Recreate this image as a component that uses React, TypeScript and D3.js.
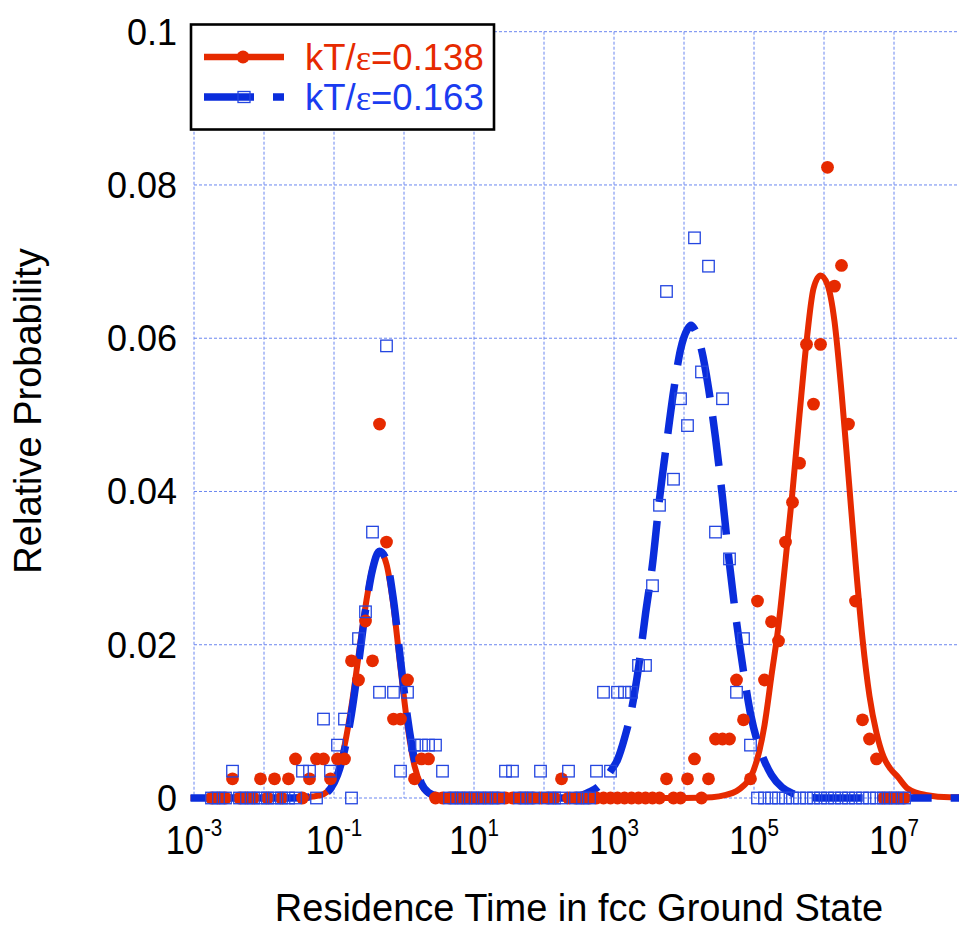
import React from 'react';
import * as d3 from 'd3';

// Histogram bins: centres at 10^(-2.75 + 0.1*i)
const binStartExp = -2.75;
const binStepExp = 0.1;

// kT/ε = 0.138 (filled circles)
const redData = [
  0, 0, 0, 0.0025, 0, 0, 0, 0.0025, 0, 0.0025,
  0, 0.0025, 0.0051, 0, 0.0025, 0.0051, 0.0051, 0.0025, 0.0051, 0.0051,
  0.0179, 0.0154, 0.0231, 0.0179, 0.0488, 0.0334, 0.0103, 0.0103, 0.0154, 0.0025,
  0.0051, 0.0051, 0, 0, 0, 0, 0, 0, 0, 0,
  0, 0, 0, 0, 0, 0, 0, 0, 0, 0,
  0.0025, 0, 0, 0, 0, 0, 0, 0, 0, 0,
  0, 0, 0, 0, 0, 0.0025, 0, 0, 0.0025, 0.0051,
  0, 0.0025, 0.0077, 0.0077, 0.0077, 0.0154, 0.0102, 0.0025, 0.0257, 0.0154,
  0.0230, 0.0205, 0.0334, 0.0386, 0.0437, 0.0592, 0.0514, 0.0592, 0.0823, 0.0668,
  0.0695, 0.0488, 0.0257, 0.0102, 0.0077, 0.0051, 0, 0, 0, 0,
];

// kT/ε = 0.163 (open squares)
const blueData = [
  0, 0, 0, 0.0035, 0, 0, 0, 0, 0, 0,
  0, 0, 0, 0.0035, 0.0035, 0, 0.0103, 0.0035, 0.0069, 0.0103,
  0, 0.0208, 0.0243, 0.0347, 0.0138, 0.0590, 0.0138, 0.0035, 0.0138, 0.0069,
  0.0069, 0.0069, 0.0069, 0.0035, 0, 0, 0, 0, 0, 0,
  0, 0, 0.0035, 0.0035, 0, 0, 0, 0.0035, 0, 0,
  0, 0.0035, 0, 0, 0, 0.0035, 0.0138, 0.0035, 0.0138, 0.0138,
  0.0138, 0.0173, 0.0173, 0.0277, 0.0382, 0.0661, 0.0416, 0.0521, 0.0486, 0.0731,
  0.0556, 0.0694, 0.0347, 0.0521, 0.0312, 0.0138, 0.0208, 0.0069, 0, 0,
  0, 0, 0, 0, 0, 0, 0, 0, 0, 0,
  0, 0, 0, 0, 0, 0, 0, 0, 0, 0,
];

// Fitted curves (exponent of time, probability)
const redFitExp = [
  -3.05, -1.6, -1.3, -1.15, -1.05, -0.95, -0.85, -0.75, -0.65, -0.55,
  -0.45, -0.35, -0.25, -0.15, -0.05, 0.05, 0.15, 0.25, 0.35, 0.5,
  0.7, 1.0, 4.0, 4.4, 4.6, 4.75, 4.85, 4.95, 5.05, 5.15,
  5.25, 5.35, 5.45, 5.55, 5.65, 5.75, 5.85, 5.95, 6.05, 6.15,
  6.25, 6.35, 6.45, 6.55, 6.65, 6.75, 6.85, 6.95, 7.05, 7.2,
  7.45, 7.8, 8.0,
];
const redFitP = [
  0, 0, 0.0002, 0.0005, 0.0013, 0.0032, 0.0068, 0.0120, 0.0185, 0.0250,
  0.0300, 0.0322, 0.0305, 0.0250, 0.0170, 0.0095, 0.0042, 0.0016, 0.0006, 0.0001,
  0, 0, 0, 0.0001, 0.0004, 0.0009, 0.0016, 0.0027, 0.0052, 0.0095,
  0.0160, 0.0225, 0.0310, 0.0400, 0.0500, 0.0595, 0.0665, 0.0682, 0.0670, 0.0622,
  0.0530, 0.0420, 0.0308, 0.0208, 0.0133, 0.0085, 0.0054, 0.0038, 0.0028, 0.0012,
  0.0004, 0.0001, 0.0001,
];
const blueFitExp = [
  -3.05, -1.6, -1.3, -1.15, -1.05, -0.95, -0.85, -0.75, -0.65, -0.55,
  -0.45, -0.35, -0.25, -0.15, -0.05, 0.05, 0.15, 0.25, 0.35, 0.5,
  0.7, 2.3, 2.55, 2.65, 2.75, 2.85, 2.95, 3.05, 3.15, 3.25,
  3.35, 3.45, 3.55, 3.65, 3.75, 3.85, 3.95, 4.05, 4.1, 4.15,
  4.25, 4.35, 4.45, 4.55, 4.65, 4.75, 4.85, 4.95, 5.05, 5.15,
  5.25, 5.4, 5.55, 5.75, 6.0, 8.0,
];
const blueFitP = [
  0, 0, 0.0002, 0.0005, 0.0012, 0.0030, 0.0062, 0.0110, 0.0175, 0.0245,
  0.0298, 0.0322, 0.0310, 0.0258, 0.0180, 0.0105, 0.0050, 0.0019, 0.0007, 0.0002,
  0, 0, 0.0004, 0.0008, 0.0013, 0.0022, 0.0035, 0.0050, 0.0078, 0.0115,
  0.0170, 0.0240, 0.0305, 0.0390, 0.0462, 0.0530, 0.0585, 0.0612, 0.0617, 0.0612,
  0.0585, 0.0535, 0.0470, 0.0392, 0.0305, 0.0230, 0.0165, 0.0110, 0.0073, 0.0048,
  0.0030, 0.0014, 0.0006, 0.0001, 0, 0,
];

const xGridExps = [-3, -2, -1, 0, 1, 2, 3, 4, 5, 6, 7];
const xTickExps = ['-3', '-1', '1', '3', '5', '7'];
const yTicks = [0, 0.02, 0.04, 0.06, 0.08, 0.1];
const yTickLabels = ['0', '0.02', '0.04', '0.06', '0.08', '0.1'];
const legendValues = ['0.138', '0.163'];
const xTitle = 'Residence Time in fcc Ground State';
const yTitle = 'Relative Probability';

const RED = '#e62a00';
const BLUE = '#0a2ddc';
const BLUE_MARK = '#2446e0';
const BLUE_TEXT = '#1a3cf0';
const GRID = '#6a86f0';
const FONT = '"Liberation Sans", Arial, Helvetica, sans-serif';

export default function App() {
  const x = d3.scaleLog().domain([1e-3, 1e8]).range([194, 964]);
  const y = d3.scaleLinear().domain([0, 0.1]).range([798, 31.7]);

  const binT = (i: number) => Math.pow(10, binStartExp + binStepExp * i);
  const line = d3
    .line<[number, number]>()
    .x((d) => x(Math.pow(10, d[0])))
    .y((d) => y(d[1]))
    .curve(d3.curveMonotoneX);

  const redFit = redFitExp.map((e, i) => [e, redFitP[i]] as [number, number]);
  const blueFit = blueFitExp.map((e, i) => [e, blueFitP[i]] as [number, number]);

  const sq = 11.5;

  return (
    <svg
      width={959}
      height={928}
      style={{ position: 'absolute', left: 0, top: 0, background: '#fff' }}
      fontFamily={FONT}
    >
      <rect x={0} y={0} width={959} height={928} fill="#fff" />
      {/* grid */}
      <g stroke={GRID} strokeWidth={1} strokeDasharray="3 2" fill="none">
        {xGridExps.map((e) => (
          <line key={'vx' + e} x1={x(Math.pow(10, e))} x2={x(Math.pow(10, e))} y1={y(0.1)} y2={y(0)} />
        ))}
        {yTicks.map((t) => (
          <line key={'hy' + t} x1={x(1e-3)} x2={959} y1={y(t)} y2={y(t)} />
        ))}
      </g>

      {/* fitted curves */}
      <path d={line(redFit) || ''} fill="none" stroke={RED} strokeWidth={6} strokeLinejoin="round" />
      <path d={line(blueFit) || ''} fill="none" stroke={BLUE} strokeWidth={7.5} strokeDasharray="50 19" />

      {/* data markers */}
      <g fill={RED}>
        {redData.map((v, i) => (
          <circle key={'r' + i} cx={x(binT(i))} cy={y(v)} r={6.4} />
        ))}
      </g>
      <g fill="none" stroke={BLUE_MARK} strokeWidth={1.3}>
        {blueData.map((v, i) => (
          <rect key={'b' + i} x={x(binT(i)) - sq / 2} y={y(v) - sq / 2} width={sq} height={sq} />
        ))}
      </g>

      {/* y tick labels */}
      <g fontSize={36} textAnchor="end" fill="#000">
        {yTicks.map((t, i) => (
          <text key={'yl' + t} x={177} y={y(t)} dy="0.36em">
            {yTickLabels[i]}
          </text>
        ))}
      </g>

      {/* x tick labels */}
      <g fill="#000">
        {xTickExps.map((e) => (
          <text
            key={'xl' + e}
            transform={`translate(${x(Math.pow(10, +e))},854) scale(0.86,1)`}
            textAnchor="middle"
            fontSize={40}
          >
            <tspan>10</tspan>
            <tspan dy={-18} fontSize={24}>
              {e}
            </tspan>
          </text>
        ))}
      </g>

      {/* axis titles */}
      <text x={579} y={921} textAnchor="middle" fontSize={38} fill="#000">
        {xTitle}
      </text>
      <text transform="translate(41,411) rotate(-90)" textAnchor="middle" fontSize={38} fill="#000">
        {yTitle}
      </text>

      {/* legend */}
      <rect x={191} y={24.5} width={303} height={105} fill="#fff" stroke="#000" strokeWidth={2.6} />
      <line x1={204} x2={284} y1={57} y2={57} stroke={RED} strokeWidth={6.5} />
      <circle cx={243} cy={57} r={6.5} fill={RED} />
      <line x1={204} x2={284} y1={97} y2={97} stroke={BLUE} strokeWidth={7.5} strokeDasharray="50 19" />
      <rect x={244 - 6} y={97 - 5.5} width={12} height={11} fill="none" stroke={BLUE_MARK} strokeWidth={1.3} />
      <text x={305} y={70} fontSize={36.5} fill={RED}>
        <tspan>kT/</tspan>
        <tspan fontFamily='"Liberation Serif", "Times New Roman", serif'>ε</tspan>
        <tspan>={legendValues[0]}</tspan>
      </text>
      <text x={305} y={110} fontSize={36.5} fill={BLUE_TEXT}>
        <tspan>kT/</tspan>
        <tspan fontFamily='"Liberation Serif", "Times New Roman", serif'>ε</tspan>
        <tspan>={legendValues[1]}</tspan>
      </text>
    </svg>
  );
}
